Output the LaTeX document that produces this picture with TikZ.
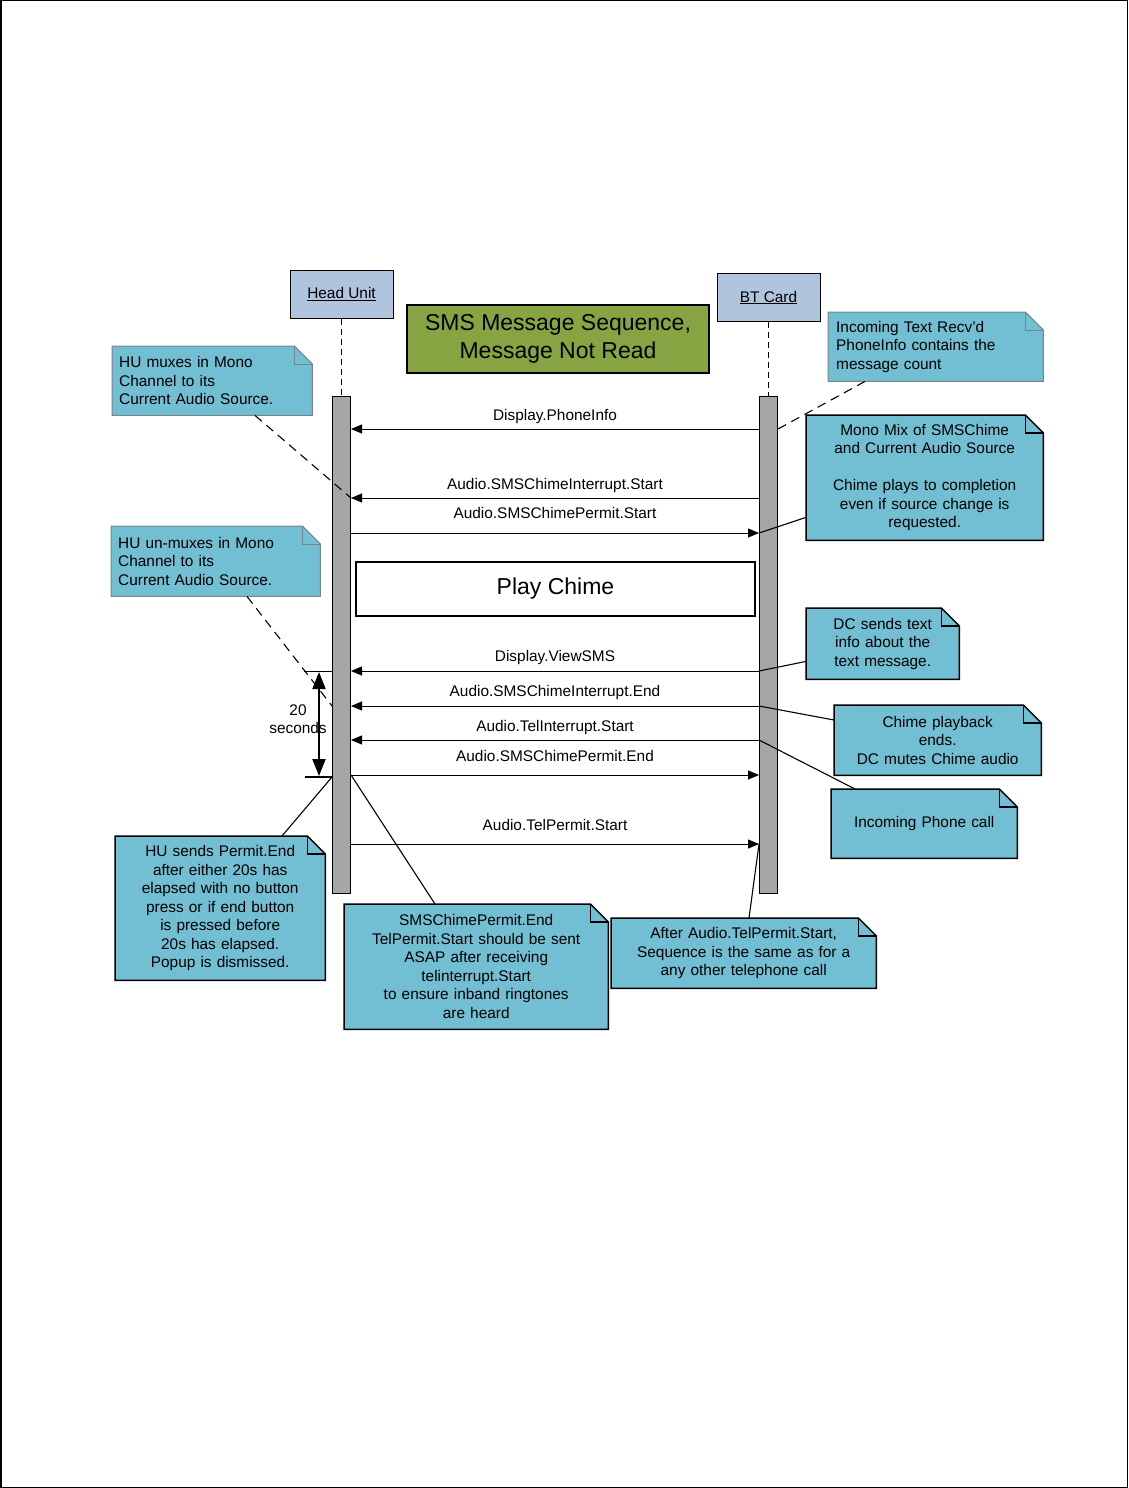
\documentclass[tikz,border=0pt]{standalone}
\usepackage{fontspec}
\setmainfont{Liberation Sans}
\usetikzlibrary{arrows.meta,positioning,backgrounds}
\definecolor{notecol}{RGB}{114,190,210}
\definecolor{titlecol}{RGB}{134,165,66}
\definecolor{unitcol}{RGB}{176,196,222}
\definecolor{barcol}{RGB}{166,166,166}
\definecolor{faintcol}{RGB}{120,132,142}
\newcommand{\notefont}{\fontsize{15.4pt}{18.5pt}\selectfont}
\newcommand{\bigfont}{\fontsize{23pt}{28pt}\selectfont}

% note background with folded corner
\newcommand{\dogear}[3]{%
  \begin{pgfonlayer}{background}
    \filldraw[fill=notecol, draw=#2, line width=#3]
      (#1.north west) -- ([xshift=-18pt]#1.north east) -- ([yshift=-18pt]#1.north east)
      -- (#1.south east) -- (#1.south west) -- cycle;
    \draw[draw=#2, line width=#3] ([xshift=-18pt]#1.north east) |- ([yshift=-18pt]#1.north east);
  \end{pgfonlayer}}

\tikzset{
  unit/.style={draw, line width=1pt, fill=unitcol, minimum width=103pt, minimum height=48pt, inner sep=0pt},
  bar/.style={draw, line width=1pt, fill=barcol, minimum width=18pt, minimum height=497pt, inner sep=0pt},
  lifeline/.style={line width=0.8pt, dash pattern=on 6pt off 4pt},
  msg/.style={line width=0.9pt, -{Triangle[length=11pt,width=9pt]}},
  msglabel/.style={midway, inner sep=0pt},
  note/.style={anchor=north west, inner xsep=7pt, inner ysep=0pt, align=left},
  link/.style={line width=1.1pt},
  dashlink/.style={line width=1.1pt, dash pattern=on 9pt off 6pt},
  span/.style={line width=2pt, {Triangle[length=17pt,width=13pt]}-{Triangle[length=17pt,width=13pt]}},
}

\begin{document}
\begin{tikzpicture}[x=1pt, y=-1pt, font=\notefont]
  % page
  \useasboundingbox (0,0) rectangle (1128,1488);
  \draw[line width=1.5pt] (0.75,0.75) rectangle (1127.25,1487.25);

  % lifelines
  \node[unit] (hu) at (341.5,294) {\underline{Head Unit}};
  \node[unit] (bt) at (768.5,297.5) {\underline{BT Card}};
  \node[bar, below=77pt of hu] (hubar) {};
  \node[bar, below=73.5pt of bt] (btbar) {};
  \draw[lifeline] (hu) -- (hubar);
  \draw[lifeline] (bt) -- (btbar);

  \node[draw, line width=1.5pt, fill=titlecol, minimum width=302pt, minimum height=68pt,
        align=center, font=\bigfont] (title) at (558,339) {SMS Message Sequence,\\Message Not Read};

  % message end points
  \foreach \m/\y in {phone/429, chstart/498, pmstart/533, viewsms/671,
                     chend/706, telint/740, pmend/775, telpm/844} {
    \coordinate (hu-\m) at (hubar.east |- 0,\y);
    \coordinate (bt-\m) at (btbar.west |- 0,\y);
  }

  % messages
  \draw[msg] (bt-phone) -- node[msglabel, yshift=12pt] {Display.PhoneInfo} (hu-phone);
  \draw[msg] (bt-chstart) -- node[msglabel, yshift=12pt] {Audio.SMSChimeInterrupt.Start} (hu-chstart);
  \draw[msg] (hu-pmstart) -- node[msglabel, yshift=20pt] {Audio.SMSChimePermit.Start} (bt-pmstart);
  \node[draw, line width=1.5pt, fill=white, minimum width=399pt, minimum height=54pt,
        font=\bigfont] (chime) at (555.5,589) {Play Chime};
  \draw[msg] (bt-viewsms) -- node[msglabel, yshift=13pt] {Display.ViewSMS} (hu-viewsms);
  \draw[msg] (bt-chend) -- node[msglabel, yshift=13pt] {Audio.SMSChimeInterrupt.End} (hu-chend);
  \draw[msg] (bt-telint) -- node[msglabel, yshift=12pt] {Audio.TelInterrupt.Start} (hu-telint);
  \draw[msg] (hu-pmend) -- node[msglabel, yshift=19pt] {Audio.SMSChimePermit.End} (bt-pmend);
  \draw[msg] (hu-telpm) -- node[msglabel, yshift=19pt] {Audio.TelPermit.Start} (bt-telpm);

  % 20 seconds
  \coordinate (t0) at (hubar.west |- hu-viewsms);
  \coordinate (t1) at ([yshift=-2pt]hubar.west |- hu-pmend);
  \draw[line width=1pt] ([xshift=-28pt]t0) -- (t0);
  \draw[line width=2pt] ([xshift=-27pt]t1) -- (t1);
  \draw[span] ([xshift=-13pt,yshift=-1pt]t0) -- node[align=center, inner sep=0pt, xshift=-21pt, yshift=5pt]
    {20\\seconds} ([xshift=-13pt,yshift=1pt]t1);

  % notes
  \node[note, text width=186pt, minimum height=69pt] (muxnote) at (112,346)
    {HU muxes in Mono\\Channel to its\\Current Audio Source.};
  \dogear{muxnote}{faintcol}{1pt}
  \node[note, text width=199pt, minimum height=69pt, inner xsep=8pt] (infonote) at (828,312)
    {Incoming Text Recv'd\\PhoneInfo contains the\\message count};
  \dogear{infonote}{faintcol}{1pt}
  \node[note, text width=223pt, minimum height=125pt, align=center] (mixnote) at (806,415)
    {Mono Mix of SMSChime\\and Current Audio Source\\[18.5pt]Chime plays to completion\\even if source change is\\requested.};
  \dogear{mixnote}{black}{1.5pt}
  \node[note, text width=195pt, minimum height=70pt] (unmuxnote) at (111,526)
    {HU un-muxes in Mono\\Channel to its\\Current Audio Source.};
  \dogear{unmuxnote}{faintcol}{1pt}
  \node[note, text width=139pt, minimum height=71pt, align=center] (dcnote) at (806,608)
    {DC sends text\\info about the\\text message.};
  \dogear{dcnote}{black}{1.5pt}
  \node[note, text width=193pt, minimum height=70pt, align=center] (endnote) at (834,705)
    {Chime playback\\ends.\\DC mutes Chime audio};
  \dogear{endnote}{black}{1.5pt}
  \node[note, text width=172pt, minimum height=69pt, align=center] (callnote) at (831,789)
    {Incoming Phone call};
  \dogear{callnote}{black}{1.5pt}
  \node[note, text width=196pt, minimum height=144pt, align=center] (permitnote) at (115,836)
    {HU sends Permit.End\\after either 20s has\\elapsed with no button\\press or if end button\\is pressed before\\20s has elapsed.\\Popup is dismissed.};
  \dogear{permitnote}{black}{1.5pt}
  \node[note, text width=250pt, minimum height=125pt, align=center] (chimenote) at (344,904)
    {SMSChimePermit.End\\TelPermit.Start should be sent\\ASAP after receiving\\telinterrupt.Start\\to ensure inband ringtones\\are heard};
  \dogear{chimenote}{black}{1.5pt}
  \node[note, text width=251pt, minimum height=70pt, align=center] (afternote) at (611,918)
    {After Audio.TelPermit.Start,\\Sequence is the same as for a\\any other telephone call};
  \dogear{afternote}{black}{1.5pt}

  % note links
  \draw[dashlink] ([xshift=143pt]muxnote.south west) -- (hu-chstart);
  \draw[dashlink] ([xshift=37pt]infonote.south west) -- (btbar.east |- bt-phone);
  \draw[link] ([yshift=23pt]mixnote.south west) -- (bt-pmstart);
  \draw[dashlink] ([xshift=136pt]unmuxnote.south west) -- (hubar.west |- hu-chend);
  \draw[link] ([yshift=18pt]dcnote.south west) -- (bt-viewsms);
  \draw[link] ([yshift=-15pt]endnote.north west) -- (bt-chend);
  \draw[link] ([xshift=24pt]callnote.north west) -- (bt-telint);
  \draw[link] ([xshift=167pt]permitnote.north west) -- (t1);
  \draw[link] ([xshift=91pt]chimenote.north west) -- (hu-pmend);
  \draw[link] ([xshift=138pt]afternote.north west) -- (bt-telpm);
\end{tikzpicture}
\end{document}
